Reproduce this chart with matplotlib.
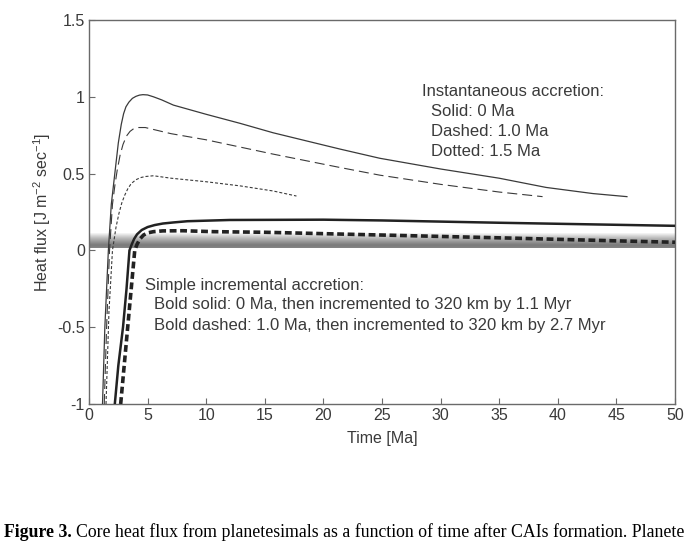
import numpy as np
import matplotlib
matplotlib.use('Agg')
import matplotlib.pyplot as plt

# ── Curves (time in Ma, heat flux in J m^-2 s^-1) ──
inst0_t = [1.15, 1.35, 1.65, 1.9, 2.2, 2.5, 2.75, 2.95, 3.15, 3.4, 3.7, 4.0, 4.3,
           4.6, 5.0, 5.5, 6.2, 7.2, 10.0, 12.9, 15.7, 18.6, 21.4, 24.8, 30.0,
           35.0, 39.0, 43.0, 45.9]
inst0_q = [-1.0, -0.5, 0.0, 0.3, 0.5, 0.7, 0.82, 0.89, 0.935, 0.965, 0.99, 1.003,
           1.011, 1.014, 1.012, 1.0, 0.98, 0.946, 0.886, 0.827, 0.766, 0.712,
           0.66, 0.60, 0.53, 0.47, 0.41, 0.37, 0.35]

inst10_t = [1.3, 1.5, 1.75, 2.0, 2.2, 2.4, 2.65, 2.9, 3.2, 3.5, 3.8, 4.2, 4.8,
            7.0, 10.0, 15.7, 21.4, 24.8, 30.0, 35.0, 38.7]
inst10_q = [-1.0, -0.5, 0.0, 0.3, 0.42, 0.52, 0.62, 0.69, 0.745, 0.775, 0.792,
            0.80, 0.80, 0.76, 0.72, 0.627, 0.54, 0.49, 0.43, 0.38, 0.35]

inst15_t = [1.45, 1.7, 2.0, 2.3, 2.55, 2.8, 3.05, 3.3, 3.6, 4.0, 4.4, 4.8, 5.5,
            7.0, 10.0, 12.9, 15.7, 17.7]
inst15_q = [-1.0, -0.4, 0.0, 0.15, 0.24, 0.31, 0.36, 0.4, 0.435, 0.46, 0.474,
            0.481, 0.486, 0.47, 0.447, 0.42, 0.387, 0.354]

incr0_t = [2.2, 2.5, 2.9, 3.2, 3.45, 3.65, 3.85, 4.1, 4.5, 5.0, 5.6, 6.3, 7.2,
           8.4, 12.0, 20.0, 25.0, 35.0, 50.0]
incr0_q = [-1.0, -0.75, -0.5, -0.25, 0.0, 0.04, 0.075, 0.105, 0.133, 0.152,
           0.165, 0.175, 0.182, 0.19, 0.198, 0.20, 0.195, 0.18, 0.16]

incr10_t = [2.7, 3.0, 3.3, 3.6, 3.9, 4.1, 4.35, 4.65, 5.0, 5.5, 6.3, 8.0, 10.6,
            15.0, 25.0, 36.0, 45.0, 50.0]
incr10_q = [-1.0, -0.75, -0.5, -0.25, 0.0, 0.04, 0.075, 0.1, 0.114, 0.122,
            0.127, 0.128, 0.122, 0.118, 0.10, 0.08, 0.062, 0.053]

xticks = [0, 5, 10, 15, 20, 25, 30, 35, 40, 45, 50]
yticks = [-1, -0.5, 0, 0.5, 1, 1.5]
ytick_labels = ['-1', '-0.5', '0', '0.5', '1', '1.5']

INK = '#3a3a3a'
FRAME = '#6a6a6a'
SANS = ['Liberation Sans', 'DejaVu Sans']
SERIF = ['Liberation Serif', 'DejaVu Serif']

fig = plt.figure(figsize=(6.88, 5.56), dpi=100)
ax = fig.add_axes([0.1294, 0.2734, 0.8517, 0.6906])

# grey shaded band just above zero
prof_y = np.linspace(0, 1, 64)
shade = np.interp(prof_y, [0.0, 0.2, 0.4, 0.65, 0.85, 1.0],
                  [0.52, 0.48, 0.58, 0.72, 0.86, 0.97])
ax.imshow(shade[:, None], cmap='gray', vmin=0, vmax=1, origin='lower',
          extent=(0, 50, 0.015, 0.11), aspect='auto', zorder=1,
          interpolation='bilinear')

ax.plot(inst0_t, inst0_q, color=INK, lw=0.9, zorder=3)
ax.plot(inst10_t, inst10_q, color=INK, lw=0.8, dashes=(9, 4.5), zorder=3)
ax.plot(inst15_t, inst15_q, color=INK, lw=0.8, dashes=(2.7, 1.8), zorder=3)
ax.plot(incr0_t, incr0_q, color='#222222', lw=1.8, zorder=4)
ax.plot(incr10_t, incr10_q, color='#222222', lw=2.6, dashes=(1.9, 1.0), zorder=4)

ax.set_xlim(0, 50)
ax.set_ylim(-1, 1.5)
ax.set_xticks(xticks)
ax.set_xticklabels([str(t) for t in xticks], family=SANS, fontsize=11.5, color=INK)
ax.set_yticks(yticks)
ax.set_yticklabels(ytick_labels, family=SANS, fontsize=11.5, color=INK)
ax.tick_params(direction='in', length=4, color=FRAME, pad=3)
for s in ax.spines.values():
    s.set_color(FRAME)
    s.set_linewidth(1.0)

ax.set_xlabel('Time [Ma]', family=SANS, fontsize=11.5, color=INK, labelpad=6)
ax.set_ylabel('Heat flux [J m$^{\\mathregular{-2}}$ sec$^{\\mathregular{-1}}$]',
              family=SANS, fontsize=11.5, color=INK, labelpad=3)

# annotation blocks
txt = dict(family=SANS, fontsize=12, color=INK, va='baseline', ha='left')
ax.text(28.4, 1.005, 'Instantaneous accretion:', **txt)
ax.text(29.15, 0.875, 'Solid: 0 Ma', **txt)
ax.text(29.15, 0.745, 'Dashed: 1.0 Ma', **txt)
ax.text(29.15, 0.615, 'Dotted: 1.5 Ma', **txt)

ax.text(4.78, -0.258, 'Simple incremental accretion:', **txt)
ax.text(5.55, -0.381, 'Bold solid: 0 Ma, then incremented to 320 km by 1.1 Myr', **txt)
ax.text(5.55, -0.518, 'Bold dashed: 1.0 Ma, then incremented to 320 km by 2.7 Myr', **txt)

# caption, trimmed to the part that is visible on the source page
head = fig.text(0.006, 0.035, 'Figure 3.', family=SERIF, fontsize=12.8,
                fontweight='bold', color='black', va='baseline')
fig.canvas.draw()
bb = head.get_window_extent(renderer=fig.canvas.get_renderer())
fig.text(bb.x1 / fig.bbox.width + 0.006, 0.035,
         'Core heat flux from planetesimals as a function of time after CAIs '
         'formation. Planete',
         family=SERIF, fontsize=12.8, color='black', va='baseline')

fig.savefig('out.png', dpi=100)
